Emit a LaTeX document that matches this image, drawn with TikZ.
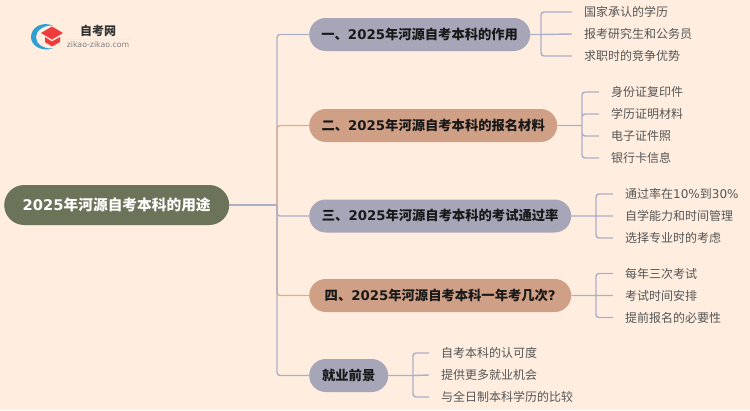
\documentclass[tikz,border=0pt]{standalone}
\usepackage{fontspec}
\setmainfont{Noto Sans CJK SC}
\newfontfamily\latf{DejaVu Sans}
\newcommand{\lat}[1]{{\latf #1}}
\usetikzlibrary{shapes.misc}
\definecolor{pagebg}{HTML}{FFEEE0}
\definecolor{rootfill}{HTML}{6B7358}
\definecolor{bluefill}{HTML}{A6A6B8}
\definecolor{orangefill}{HTML}{D0A086}
\definecolor{blueline}{HTML}{ABAFC8}
\definecolor{orangeline}{HTML}{E0AC90}
\definecolor{leafgrey}{HTML}{555555}
\definecolor{logoblue}{HTML}{2E9FD0}
\definecolor{logored}{HTML}{EE3B3B}
\tikzset{
  x=1pt,y=-1pt,
  pill/.style={rounded rectangle,inner sep=0pt,minimum height=33pt,font=\fontsize{13.3pt}{15pt}\selectfont\bfseries,text=black!90,anchor=west,text height=11.5pt,text depth=2pt},
  bluepill/.style={pill,fill=bluefill},
  orangepill/.style={pill,fill=orangefill},
  rootpill/.style={rounded rectangle,inner sep=0pt,minimum height=40pt,minimum width=225pt,fill=rootfill,text=white,anchor=west,font=\fontsize{14.7pt}{16pt}\selectfont\bfseries},
  leaf/.style={anchor=west,inner xsep=12pt,inner ysep=0pt,text=leafgrey,font=\fontsize{12pt}{14pt}\selectfont,text height=10.5pt,text depth=1.5pt},
  bluelink/.style={draw=blueline,line width=1.4pt,rounded corners=3pt},
  orangelink/.style={draw=orangeline,line width=1.4pt,rounded corners=3pt},
}
\begin{document}
\begin{tikzpicture}
\useasboundingbox (0,0) rectangle (750,410);
\fill[pagebg] (0,0) rectangle (750,410);

% logo
\fill[logoblue] (53,25.5) .. controls (41,21) and (31,28) .. (31,37) .. controls (31,45) and (40,52) .. (53,48.5) .. controls (43,49) and (36,44) .. (36,37) .. controls (36,31) and (43,25) .. (53,25.5) -- cycle;
\fill[logored] (52,26.5) -- (63,33) -- (52,39.5) -- (41,33) -- cycle;
\fill[logored] (45,37) -- (52,41.5) -- (60,37) -- (60,42) -- (52,46.5) -- (45,42) -- cycle;
\node[inner sep=0pt,font=\fontsize{12pt}{14pt}\selectfont\bfseries,text=black!80] (logotext) at (98,31) {自考网};
\node[inner sep=0pt,font=\latf\fontsize{7.8pt}{9pt}\selectfont,text=black!50] (logourl) at (98,45) {zikao-zikao.com};
\draw[black!8,line width=0.6pt] (66,39) -- (131,39);

% main nodes
\node[rootpill] (root) at (4,205) {\lat{2025}年河源自考本科的用途};
\node[bluepill,minimum width=221pt] (b1) at (309,34.5) {一、\lat{2025}年河源自考本科的作用};
\node[orangepill,minimum width=248pt] (b2) at (309,125.5) {二、\lat{2025}年河源自考本科的报名材料};
\node[bluepill,minimum width=262pt] (b3) at (309,216) {三、\lat{2025}年河源自考本科的考试通过率};
\node[orangepill,minimum width=262pt] (b4) at (309,295.5) {四、\lat{2025}年河源自考本科一年考几次\lat{?}};
\node[bluepill,minimum width=79pt] (b5) at (309,375.5) {就业前景};

% leaves
\node[leaf] (l11) at (572,12) {国家承认的学历};
\node[leaf] (l12) at (572,34) {报考研究生和公务员};
\node[leaf] (l13) at (572,56) {求职时的竞争优势};
\node[leaf] (l21) at (599,92) {身份证复印件};
\node[leaf] (l22) at (599,114) {学历证明材料};
\node[leaf] (l23) at (599,136) {电子证件照};
\node[leaf] (l24) at (599,158) {银行卡信息};
\node[leaf] (l31) at (613,194) {通过率在\lat{10\%}到\lat{30\%}};
\node[leaf] (l32) at (613,216) {自学能力和时间管理};
\node[leaf] (l33) at (613,238) {选择专业时的考虑};
\node[leaf] (l41) at (613,273.5) {每年三次考试};
\node[leaf] (l42) at (613,295.5) {考试时间安排};
\node[leaf] (l43) at (613,317.5) {提前报名的必要性};
\node[leaf] (l51) at (429,353) {自考本科的认可度};
\node[leaf] (l52) at (429,375) {提供更多就业机会};
\node[leaf] (l53) at (429,397) {与全日制本科学历的比较};

% trunk
\coordinate (trunk) at (277,205);
\draw[bluelink] (root.east) -- (trunk);
\draw[bluelink] (trunk) |- (b1.west);
\draw[orangelink] (trunk) |- (b2.west);
\draw[orangelink] (trunk) |- (b4.west);
\draw[bluelink] (trunk) |- (b3.west);
\draw[bluelink] (trunk) |- (b5.west);

% branch forks
\coordinate (f1) at (541,34.5);
\coordinate (f2) at (582,125.5);
\coordinate (f3) at (596,216);
\coordinate (f4) at (596,295.5);
\coordinate (f5) at (413,375.5);
\draw[bluelink] (b1.east) -- (f1) (f1) |- (l11.west) (f1) |- (l13.west) (f1) -- (l12.west);
\draw[bluelink] (b2.east) -- (f2) (f2) |- (l21.west) (f2) |- (l22.west) (f2) |- (l23.west) (f2) |- (l24.west);
\draw[bluelink] (b3.east) -- (f3) (f3) |- (l31.west) (f3) -- (l32.west) (f3) |- (l33.west);
\draw[bluelink] (b4.east) -- (f4) (f4) |- (l41.west) (f4) -- (l42.west) (f4) |- (l43.west);
\draw[bluelink] (b5.east) -- (f5) (f5) |- (l51.west) (f5) -- (l52.west) (f5) |- (l53.west);
\end{tikzpicture}
\end{document}
